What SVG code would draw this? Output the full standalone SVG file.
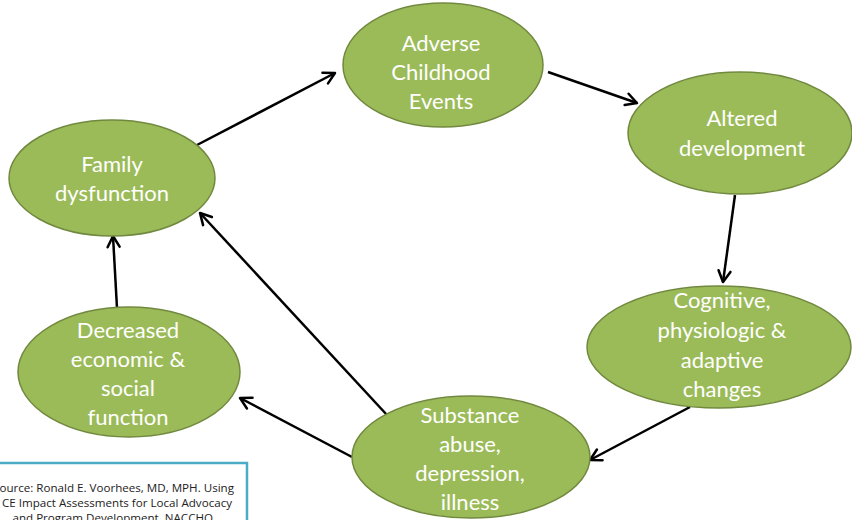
<svg xmlns="http://www.w3.org/2000/svg" width="852" height="520" viewBox="0 0 852 520">
<defs>
<style>
.node ellipse{fill:#9BBB59;stroke:#71893F;stroke-width:1.5}
.node text{fill:#ffffff;font-family:Lato,"Open Sans",sans-serif;font-size:22px;text-anchor:middle}
.conn line{stroke:#000000;stroke-width:2.5;fill:none}
.src text{fill:#222222;font-family:"Open Sans","Liberation Sans",sans-serif;font-size:11.6px;text-anchor:end}
</style>
<marker id="arr" markerUnits="userSpaceOnUse" markerWidth="16" markerHeight="16" viewBox="0 0 16 16" refX="13" refY="8" orient="auto">
<path d="M2,2 L13,8 L2,14" fill="none" stroke="#000" stroke-width="2.5" stroke-linecap="round" stroke-linejoin="round"/>
</marker>
</defs>
<rect width="852" height="520" fill="#ffffff"/>
<g class="conn">
<line x1="197" y1="145" x2="335" y2="73" marker-end="url(#arr)"/>
<line x1="548" y1="72" x2="637" y2="103" marker-end="url(#arr)"/>
<line x1="735" y1="195" x2="723" y2="282" marker-end="url(#arr)"/>
<line x1="690" y1="407" x2="590" y2="460" marker-end="url(#arr)"/>
<line x1="352" y1="457" x2="240" y2="398" marker-end="url(#arr)"/>
<line x1="387" y1="415" x2="200" y2="213" marker-end="url(#arr)"/>
<line x1="117" y1="308" x2="113" y2="236" marker-end="url(#arr)"/>
</g>
<g id="adverse" class="node">
<ellipse cx="443" cy="65" rx="100" ry="62"/>
<text x="441" y="51">Adverse</text>
<text x="441" y="80">Childhood</text>
<text x="441" y="109">Events</text>
</g>
<g id="altered" class="node">
<ellipse cx="740" cy="133" rx="112" ry="61"/>
<text x="742" y="126">Altered</text>
<text x="742" y="156">development</text>
</g>
<g id="cognitive" class="node">
<ellipse cx="719" cy="347" rx="132" ry="61"/>
<text x="722" y="308">Cognitive,</text>
<text x="722" y="338">physiologic &amp;</text>
<text x="722" y="368">adaptive</text>
<text x="722" y="397">changes</text>
</g>
<g id="substance" class="node">
<ellipse cx="471" cy="457" rx="119" ry="61"/>
<text x="470" y="423">Substance</text>
<text x="470" y="452">abuse,</text>
<text x="470" y="481">depression,</text>
<text x="470" y="510">illness</text>
</g>
<g id="decreased" class="node">
<ellipse cx="129" cy="372" rx="111" ry="65"/>
<text x="128" y="338">Decreased</text>
<text x="128" y="367">economic &amp;</text>
<text x="128" y="396">social</text>
<text x="128" y="425">function</text>
</g>
<g id="family" class="node">
<ellipse cx="112" cy="178" rx="103" ry="58"/>
<text x="112" y="172">Family</text>
<text x="112" y="201">dysfunction</text>
</g>
<g id="source" class="src">
<rect x="-10" y="463" width="257" height="80" fill="#ffffff" stroke="#4BACC6" stroke-width="2.5"/>
<text x="234" y="492">ource: Ronald E. Voorhees, MD, MPH. Using</text>
<text x="232" y="507">CE Impact Assessments for Local Advocacy</text>
<text x="213" y="522">and Program Development, NACCHO</text>
</g>
</svg>
